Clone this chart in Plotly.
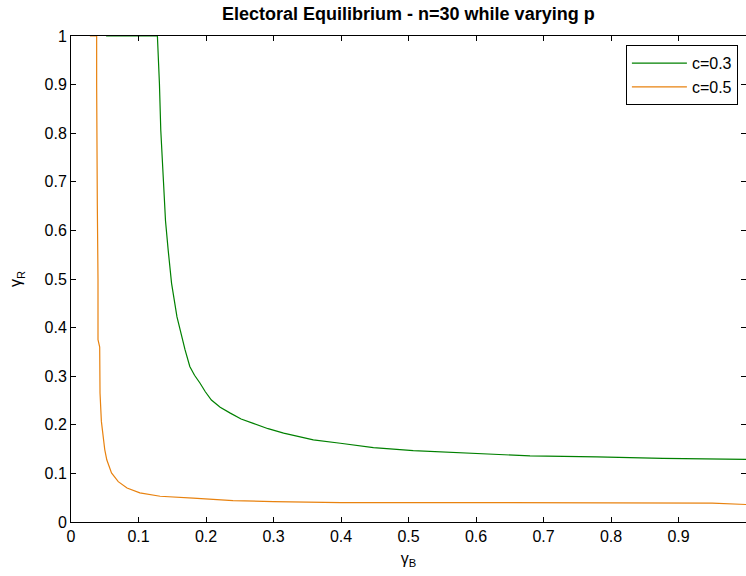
import plotly.graph_objects as go

# gamma_B / gamma_R pairs
green_x = [0.052, 0.128, 0.131, 0.133, 0.137, 0.140, 0.144, 0.149, 0.157, 0.163, 0.169,
           0.176, 0.183, 0.191, 0.199, 0.208, 0.221, 0.236, 0.252, 0.270, 0.292, 0.315,
           0.359, 0.399, 0.448, 0.507, 0.581, 0.680, 0.779, 0.877, 1.0]
green_y = [1.0, 1.0, 0.902, 0.806, 0.70, 0.62, 0.559, 0.491, 0.422, 0.386, 0.354,
           0.320, 0.302, 0.286, 0.268, 0.251, 0.236, 0.224, 0.212, 0.203, 0.192, 0.183,
           0.169, 0.162, 0.153, 0.147, 0.142, 0.136, 0.134, 0.131, 0.129]

orange_x = [0.028, 0.038, 0.038, 0.038, 0.039, 0.040, 0.040, 0.0425, 0.043, 0.045, 0.048,
            0.050, 0.053, 0.060, 0.070, 0.083, 0.102, 0.132, 0.181, 0.240, 0.30, 0.35,
            0.40, 0.60, 0.80, 0.95, 1.0]
orange_y = [1.0, 1.0, 0.9, 0.7, 0.65, 0.5, 0.375, 0.36, 0.265, 0.207, 0.17,
            0.149, 0.128, 0.101, 0.083, 0.070, 0.060, 0.053, 0.049, 0.044, 0.042, 0.041,
            0.040, 0.040, 0.040, 0.039, 0.036]

names = ["c=0.3", "c=0.5"]
colors = ["#008000", "#E8820F"]

fig = go.Figure()
fig.add_trace(go.Scatter(x=green_x, y=green_y, mode="lines", name=names[0],
                         line=dict(color=colors[0], width=1.2)))
fig.add_trace(go.Scatter(x=orange_x, y=orange_y, mode="lines", name=names[1],
                         line=dict(color=colors[1], width=1.2)))

axis_style = dict(
    showgrid=False, zeroline=False, automargin=False,
    showline=True, linecolor="black", linewidth=1, mirror="ticks",
    ticks="inside", ticklen=5, tickcolor="black",
    tickfont=dict(size=16, color="black"),
)

fig.update_layout(
    width=746, height=576,
    margin=dict(l=71, r=0, t=36, b=54),
    paper_bgcolor="white", plot_bgcolor="white",
    font=dict(family="Liberation Sans, Arial, sans-serif", color="black"),
    title=dict(text="<b>Electoral Equilibrium - n=30 while varying p</b>",
               x=0.5474, xanchor="center", y=0.976, yanchor="middle",
               font=dict(size=18)),
    xaxis=dict(range=[0, 1], tickvals=[0, 0.1, 0.2, 0.3, 0.4, 0.5, 0.6, 0.7, 0.8, 0.9],
               ticktext=["0", "0.1", "0.2", "0.3", "0.4", "0.5", "0.6", "0.7", "0.8", "0.9"],
               title=dict(text="γ<sub>B</sub>", font=dict(size=16), standoff=8),
               **axis_style),
    yaxis=dict(range=[0, 1],
               tickvals=[0, 0.1, 0.2, 0.3, 0.4, 0.5, 0.6, 0.7, 0.8, 0.9, 1],
               ticktext=["0", "0.1", "0.2", "0.3", "0.4", "0.5", "0.6", "0.7", "0.8", "0.9", "1"],
               title=dict(text="γ<sub>R</sub>", font=dict(size=16), standoff=18),
               **axis_style),
    legend=dict(x=0.988, y=0.981, xanchor="right", yanchor="top",
                bgcolor="white", bordercolor="black", borderwidth=1,
                font=dict(size=16), itemwidth=55, tracegroupgap=0),
    showlegend=True,
)

# drop the page's default 8px body margin so the figure sits at the window origin
fig.write_html("out.html", config={"displayModeBar": False},
               post_script="document.body.style.margin='0';document.body.style.overflow='hidden';")
